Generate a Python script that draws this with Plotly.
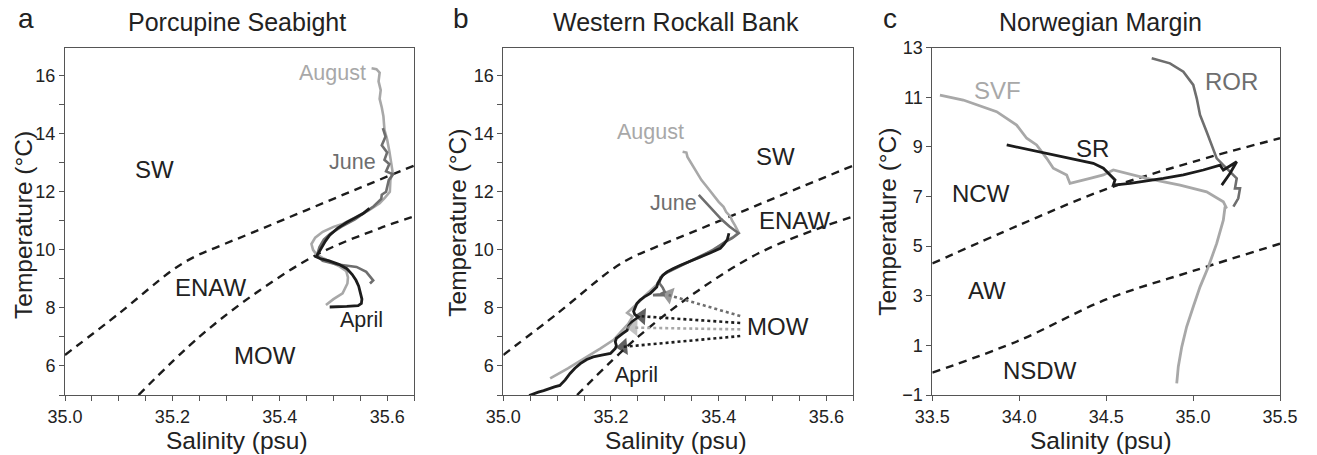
import plotly.graph_objects as go

W, H = 1317, 455

# ---------------- data ----------------
# water-mass boundaries (panels a & b share them)
ab_upper_S = [35.0, 35.1, 35.2, 35.24, 35.28, 35.35, 35.45, 35.55, 35.65]
ab_upper_T = [6.38, 7.8, 9.3, 9.75, 10.07, 10.6, 11.37, 12.14, 12.9]
ab_lower_S = [35.137, 35.25, 35.363, 35.474, 35.586, 35.65]
ab_lower_T = [5.0, 7.0, 8.61, 9.88, 10.74, 11.15]

# panel a: Porcupine Seabight
a_aug_S = [35.571, 35.580, 35.586, 35.584, 35.588, 35.586, 35.590, 35.593, 35.595, 35.600, 35.604, 35.608,
           35.610, 35.606, 35.605, 35.596, 35.586, 35.565, 35.540, 35.518, 35.500, 35.480, 35.466, 35.459,
           35.462, 35.468, 35.482, 35.498, 35.512, 35.524, 35.527, 35.526, 35.517, 35.500, 35.486]
a_aug_T = [16.25, 16.22, 16.1, 15.8, 15.5, 15.2, 14.9, 14.6, 14.13, 13.8, 13.4, 13.0,
           12.7, 12.4, 12.0, 11.8, 11.6, 11.35, 11.1, 10.9, 10.79, 10.62, 10.42, 10.2,
           10.0, 9.85, 9.7, 9.56, 9.42, 9.26, 9.05, 8.84, 8.5, 8.3, 8.1]
a_jun_S = [35.592, 35.597, 35.590, 35.600, 35.595, 35.604, 35.598, 35.611, 35.603, 35.600, 35.598, 35.590,
           35.589, 35.575, 35.560, 35.540, 35.515, 35.494, 35.482, 35.474, 35.469, 35.480, 35.505, 35.543,
           35.561, 35.574, 35.568]
a_jun_T = [14.19, 13.9, 13.6, 13.35, 13.1, 12.95, 12.7, 12.6, 12.4, 12.2, 12.0, 11.9,
           11.75, 11.5, 11.3, 11.05, 10.8, 10.55, 10.35, 10.1, 9.8, 9.62, 9.5, 9.41,
           9.24, 8.95, 8.84]
a_apr_S = [35.567, 35.555, 35.540, 35.525, 35.508, 35.493, 35.485, 35.479, 35.474, 35.470, 35.468, 35.475,
           35.492, 35.510, 35.525, 35.535, 35.542, 35.547, 35.550, 35.553, 35.552, 35.546, 35.525, 35.505,
           35.493]
a_apr_T = [11.43, 11.25, 11.1, 10.95, 10.75, 10.5, 10.3, 10.1, 9.95, 9.85, 9.76, 9.7,
           9.62, 9.5, 9.35, 9.15, 8.95, 8.75, 8.5, 8.3, 8.15, 8.08, 8.05, 8.04,
           8.03]

# panel b: Western Rockall Bank
b_aug_S = [35.333, 35.340, 35.342, 35.350, 35.360, 35.368, 35.378, 35.385, 35.391, 35.400, 35.409, 35.414,
           35.422, 35.425, 35.430, 35.437, 35.428, 35.416, 35.403, 35.385, 35.366, 35.340, 35.316, 35.298,
           35.291, 35.285, 35.273, 35.262, 35.252, 35.238, 35.230, 35.240, 35.232, 35.222, 35.213, 35.205,
           35.180, 35.150, 35.120, 35.087]
b_aug_T = [13.38, 13.35, 13.2, 12.95, 12.63, 12.4, 12.17, 12.0, 11.83, 11.65, 11.48, 11.3,
           11.14, 11.0, 10.85, 10.6, 10.45, 10.33, 10.15, 9.95, 9.75, 9.55, 9.35, 9.15,
           9.0, 8.8, 8.6, 8.4, 8.2, 7.95, 7.83, 7.7, 7.45, 7.25, 7.05, 6.9,
           6.6, 6.25, 5.92, 5.57]
b_jun_S = [35.363, 35.375, 35.390, 35.405, 35.420, 35.437, 35.425, 35.410, 35.390, 35.366, 35.340, 35.316,
           35.300, 35.292, 35.290, 35.296, 35.300, 35.292, 35.278, 35.300]
b_jun_T = [11.89, 11.65, 11.35, 11.05, 10.8, 10.57, 10.4, 10.25, 10.0, 9.78, 9.55, 9.35,
           9.18, 9.05, 8.85, 8.7, 8.55, 8.47, 8.44, 8.44]
b_apr_S = [35.419, 35.416, 35.410, 35.403, 35.385, 35.366, 35.345, 35.329, 35.315, 35.304, 35.296, 35.292,
           35.287, 35.285, 35.278, 35.273, 35.262, 35.254, 35.248, 35.245, 35.242, 35.244, 35.251, 35.245,
           35.239, 35.233, 35.230, 35.222, 35.217, 35.210, 35.208, 35.210, 35.208, 35.203, 35.199, 35.185,
           35.167, 35.155, 35.143, 35.133, 35.124, 35.115, 35.105, 35.095, 35.087, 35.075, 35.065, 35.056,
           35.048]
b_apr_T = [10.57, 10.35, 10.2, 10.05, 9.9, 9.76, 9.6, 9.47, 9.35, 9.24, 9.12, 9.01,
           8.85, 8.72, 8.6, 8.5, 8.38, 8.27, 8.15, 8.03, 7.88, 7.78, 7.69, 7.6,
           7.52, 7.38, 7.23, 7.12, 7.06, 6.95, 6.83, 6.7, 6.6, 6.5, 6.43, 6.38,
           6.31, 6.22, 6.08, 5.92, 5.74, 5.52, 5.33, 5.28, 5.22, 5.15, 5.1, 5.05,
           4.98]
# MOW pointer arrows in panel b: (start near label) -> (tip on profile)
b_arrow_S0 = [35.44, 35.44, 35.44, 35.44]
b_arrow_T0 = [7.72, 7.48, 7.26, 7.03]
b_arrow_S1 = [35.307, 35.257, 35.242, 35.223]
b_arrow_T1 = [8.44, 7.71, 7.32, 6.66]
b_arrow_colors = ["#6e6e6e", "#1c1c1c", "#a8a8a8", "#1c1c1c"]

# panel c: Norwegian Margin
c_upper_S = [33.5, 34.0, 34.5, 35.0, 35.5]
c_upper_T = [4.3, 5.85, 7.3, 8.4, 9.35]
c_lower_S = [33.5, 34.0, 34.5, 35.0, 35.5]
c_lower_T = [-0.1, 1.2, 2.85, 4.0, 5.1]
c_svf_S = [33.544, 33.678, 33.87, 33.985, 34.043, 34.1, 34.158, 34.196, 34.273, 34.292, 34.407, 34.484,
           34.541, 34.618, 34.733, 34.925, 35.078, 35.174, 35.193, 35.184, 35.174, 35.136, 35.088, 35.04,
           35.001, 34.963, 34.935, 34.915, 34.906]
c_svf_T = [11.09, 10.89, 10.42, 9.88, 9.35, 9.08, 8.54, 8.14, 7.87, 7.53, 7.73, 7.87,
           8.07, 7.94, 7.73, 7.46, 7.19, 6.79, 6.52, 6.59, 6.05, 5.11, 4.17, 3.36,
           2.56, 1.75, 0.94, 0.14, -0.53]
c_ror_S = [34.762, 34.867, 34.944, 35.001, 35.021, 35.04, 35.078, 35.107, 35.136, 35.174, 35.212, 35.251,
           35.241, 35.270, 35.260, 35.232]
c_ror_T = [12.57, 12.37, 12.03, 11.5, 10.96, 10.29, 9.61, 9.08, 8.54, 8.27, 8.0, 7.73,
           7.33, 7.33, 6.93, 6.59]
c_sr_S = [33.928, 34.426, 34.484, 34.522, 34.551, 34.541, 34.637, 34.829, 34.944, 35.059, 35.155, 35.174,
          35.251, 35.212, 35.165]
c_sr_T = [9.08, 8.34, 8.14, 7.87, 7.67, 7.46, 7.53, 7.73, 7.87, 8.07, 8.27, 8.07,
          8.40, 7.93, 7.46]

# ---------------- style ----------------
FONT = "Liberation Sans"
LIGHT, MID, DARK = "#a8a8a8", "#6e6e6e", "#1c1c1c"
TXT = "#222222"
AX = "#555555"

fig = go.Figure()

def line(S, T, color, ax, dash=None, width=2.6, shape="linear"):
    fig.add_trace(go.Scatter(x=S, y=T, mode="lines", xaxis=ax[0], yaxis=ax[1],
                             line=dict(color=color, width=width, dash=dash, shape=shape),
                             hoverinfo="skip", showlegend=False))

DASH = "8px,6px"
A = ("x", "y"); B = ("x2", "y2"); C = ("x3", "y3")

for ax in (A, B):
    line(ab_upper_S, ab_upper_T, DARK, ax, dash=DASH, width=2.4, shape="spline")
    line(ab_lower_S, ab_lower_T, DARK, ax, dash=DASH, width=2.4, shape="spline")
line(c_upper_S, c_upper_T, DARK, C, dash=DASH, width=2.4, shape="spline")
line(c_lower_S, c_lower_T, DARK, C, dash=DASH, width=2.4, shape="spline")

line(a_aug_S, a_aug_T, LIGHT, A)
line(a_jun_S, a_jun_T, MID, A)
line(a_apr_S, a_apr_T, DARK, A, width=2.8)

line(b_aug_S, b_aug_T, LIGHT, B)
line(b_jun_S, b_jun_T, MID, B)
line(b_apr_S, b_apr_T, DARK, B, width=2.8)

for s0, t0, s1, t1, col in zip(b_arrow_S0, b_arrow_T0, b_arrow_S1, b_arrow_T1, b_arrow_colors):
    fig.add_trace(go.Scatter(x=[s0, s1], y=[t0, t1], mode="lines+markers", xaxis="x2", yaxis="y2",
                             line=dict(color=col, width=2.6, dash="3px,3px"),
                             marker=dict(symbol="triangle-up", size=[0, 15], color=col,
                                         angleref="previous", line=dict(width=0)),
                             hoverinfo="skip", showlegend=False))

line(c_svf_S, c_svf_T, LIGHT, C, width=2.8)
line(c_ror_S, c_ror_T, MID, C)
line(c_sr_S, c_sr_T, DARK, C, width=2.8)

# ---------------- axes ----------------
def px2fx(px):
    return px / W

def py2fy(py):
    return 1 - py / H

ydom = [py2fy(395), py2fy(48)]
common = dict(showline=True, linecolor=AX, linewidth=1, mirror=True, showgrid=False, zeroline=False,
              automargin=False,
              ticks="outside", ticklen=5, tickcolor=AX, tickwidth=1,
              tickfont=dict(family=FONT, size=18, color=TXT))

layout = dict(
    width=W, height=H, margin=dict(l=0, r=0, t=0, b=0, autoexpand=False),
    paper_bgcolor="white", plot_bgcolor="white", showlegend=False,
    xaxis=dict(domain=[px2fx(65), px2fx(414)], range=[35.0, 35.65], anchor="y",
               tick0=35.0, dtick=0.2, tickformat=".1f",
               minor=dict(dtick=0.05, ticks="outside", ticklen=5, tickcolor=AX), **common),
    yaxis=dict(domain=ydom, range=[5, 16.95], anchor="x", tick0=0, dtick=2,
               minor=dict(dtick=1, ticks="outside", ticklen=5, tickcolor=AX), **common),
    xaxis2=dict(domain=[px2fx(503.3), px2fx(853.3)], range=[35.0, 35.65], anchor="y2",
                tick0=35.0, dtick=0.2, tickformat=".1f",
                minor=dict(dtick=0.05, ticks="outside", ticklen=5, tickcolor=AX), **common),
    yaxis2=dict(domain=ydom, range=[5, 16.95], anchor="x2", tick0=0, dtick=2,
                minor=dict(dtick=1, ticks="outside", ticklen=5, tickcolor=AX), **common),
    xaxis3=dict(domain=[px2fx(932.3), px2fx(1280)], range=[33.5, 35.5], anchor="y3",
                tick0=33.5, dtick=0.5, tickformat=".1f", **common),
    yaxis3=dict(domain=[py2fy(395), py2fy(47.7)], range=[-1, 13], anchor="x3",
                tick0=-1, dtick=2, **common),
)
fig.update_layout(**layout)

# ---------------- text ----------------
ann = []

def dtext(txt, S, T, ax, color=TXT, size=24):
    ann.append(dict(text=txt, x=S, y=T, xref=ax[0], yref=ax[1], showarrow=False,
                    font=dict(family=FONT, size=size, color=color)))

def ptext(txt, px, py, size, angle=0, xanchor="center"):
    ann.append(dict(text=txt, x=px2fx(px), y=py2fy(py), xref="paper", yref="paper", showarrow=False,
                    textangle=angle, xanchor=xanchor, yanchor="middle",
                    font=dict(family=FONT, size=size, color=TXT)))

# panel a
dtext("August", 35.499, 16.09, A, LIGHT, 21.5)
dtext("June", 35.536, 13.02, A, MID, 21.5)
dtext("April", 35.553, 7.58, A, TXT, 21.5)
dtext("SW", 35.166, 12.75, A)
dtext("ENAW", 35.271, 8.71, A)
dtext("MOW", 35.372, 6.37, A)
# panel b
dtext("August", 35.273, 14.07, B, LIGHT, 21.5)
dtext("June", 35.316, 11.6, B, MID, 21.5)
dtext("April", 35.248, 5.68, B, TXT, 21.5)
dtext("SW", 35.505, 13.21, B)
dtext("ENAW", 35.541, 11.02, B)
dtext("MOW", 35.511, 7.35, B)
# panel c
dtext("SVF", 33.875, 11.29, C, LIGHT)
dtext("ROR", 35.222, 11.63, C, MID)
dtext("SR", 34.424, 8.94, C)
dtext("NCW", 33.779, 7.13, C)
dtext("AW", 33.817, 3.23, C)
dtext("NSDW", 34.12, 0.0, C)

# titles and letters
ptext("Porcupine Seabight", 236.5, 22, 25)
ptext("Western Rockall Bank", 675.8, 22, 25)
ptext("Norwegian Margin", 1100.8, 22, 25)
ptext("a", 25.8, 19, 28)
ptext("b", 460.8, 19, 28)
ptext("c", 890, 19, 28)

# axis titles
for cx in (236.5, 675.8, 1100.8):
    ptext("Salinity (psu)", cx, 440, 24.5)
for cx, cy in ((23, 225), (456.7, 223), (886.7, 222)):
    ptext("Temperature (°C)", cx, cy, 24.5, angle=-90)

fig.update_layout(annotations=ann)
fig.write_html("out.html")
